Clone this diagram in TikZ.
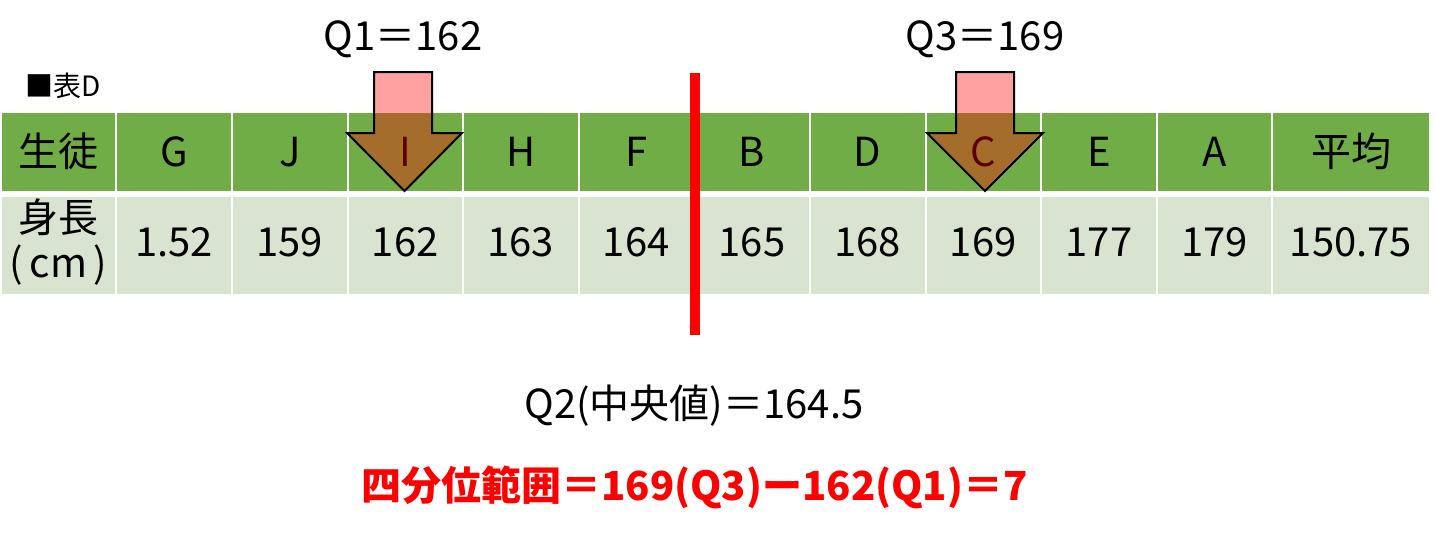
\documentclass[tikz,border=0pt]{standalone}
\usepackage{fontspec}
\setmainfont{Noto Sans CJK JP}
\definecolor{hdr}{RGB}{112,173,71}
\definecolor{dat}{RGB}{216,228,208}
\begin{document}
\begin{tikzpicture}[x=1pt,y=-1pt,font=\fontsize{40}{48}\selectfont]
\tikzset{
  hcell/.style={fill=hdr, inner sep=0pt, text height=29pt, text depth=0pt, minimum height=78pt},
  dcell/.style={fill=dat, inner sep=0pt, text height=29pt, text depth=7pt, minimum height=97pt},
  txt/.style={inner sep=0pt, anchor=base},
  downarrow/.style={fill=red, fill opacity=0.37, draw=black, draw opacity=1, line width=2pt, line join=miter},
  medline/.style={draw=red, line width=10pt}
}
\useasboundingbox (0,0) rectangle (1435,538);
% first column
\node[hcell, minimum width=113pt] (h0) at (58.5,152) {生徒};
\node[dcell, minimum width=113pt] (d0) at (58.5,245.5) {};
\node[txt] (unitA) at (d0.center |- 0,232) {身長};
\node[txt] (unitB) at (d0.center |- 0,277) {(\,cm\,)};
% other columns
\foreach \l/\r/\h/\d [count=\i] in {116/232/G/1.52, 232/347.5/J/159, 347.5/463/I/162, 463/578.5/H/163, 578.5/694/F/164, 694/810/B/165, 810/925.5/D/168, 925.5/1041/C/169, 1041/1157/E/177, 1157/1272/A/179, 1272/1430/平均/150.75}{
  \pgfmathsetmacro\w{\r-\l-2}
  \pgfmathsetmacro\c{(\r+\l)/2}
  \node[hcell, minimum width=\w pt] (h\i) at (\c,152) {\h};
  \node[dcell, minimum width=\w pt] (d\i) at (\c,245.5) {\d};
}
% quartile arrows
\path[downarrow] (374,72) -- (432,72) -- (432,133) -- (462,133) -- (404.5,191) -- (347,133) -- (374,133) -- cycle;
\path[downarrow] (956,72) -- (1014,72) -- (1014,133) -- (1043,133) -- (985,191) -- (927,133) -- (956,133) -- cycle;
% median line
\coordinate (mtop) at (695,73);
\coordinate (mbot) at (695,335);
\draw[medline] (mtop) -- (mbot);
% labels
\node[txt] (q1) at (403,50) {Q1＝162};
\node[txt] (q3) at (985,50) {Q3＝169};
\node[txt, anchor=base west, font=\fontsize{28}{32}\selectfont] (title) at (25,96) {■表D};
\node[txt] (q2) at (694,418) {Q2(中央値)＝164.5};
\node[txt, text=red, font=\bfseries\fontsize{40}{48}\selectfont] (iqr) at (694.5,500) {四分位範囲＝169(Q3)ー162(Q1)＝7};
\end{tikzpicture}
\end{document}
